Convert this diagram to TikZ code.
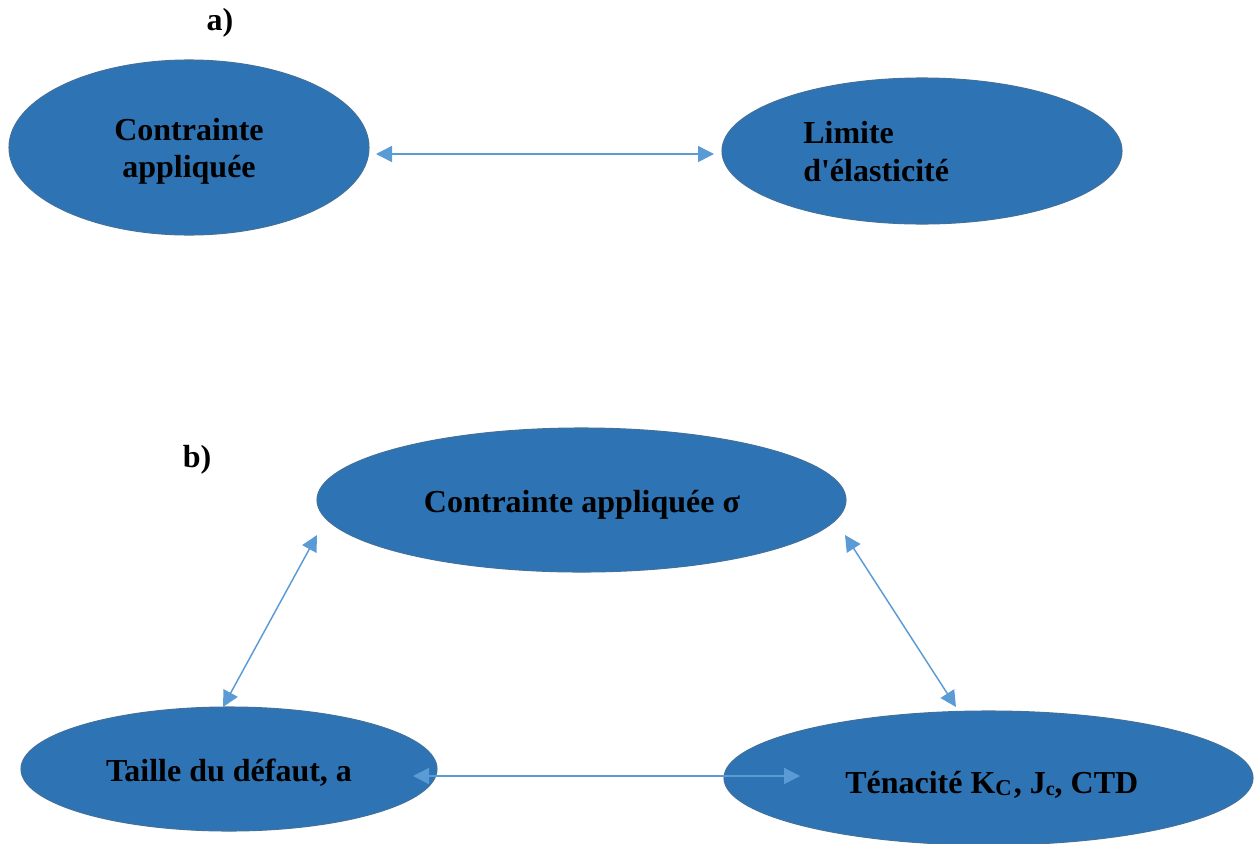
\documentclass[tikz,border=0pt]{standalone}
\usepackage{fontspec}
\setmainfont{Liberation Serif}
\usetikzlibrary{shapes.geometric,arrows.meta}
\definecolor{ellfill}{HTML}{2E74B5}
\definecolor{elldraw}{HTML}{41719C}
\definecolor{arr}{HTML}{5B9BD5}
\begin{document}
\begin{tikzpicture}[x=0.75pt,y=-0.75pt,
  ell/.style={ellipse,fill=ellfill,draw=elldraw,line width=0.8pt,inner sep=0pt},
  lbl/.style={font=\fontsize{24}{27.75}\selectfont\bfseries,text=black,inner sep=0pt},
  link/.style={draw=arr,line width=1.1pt,{Triangle[length=12pt,width=12pt]}-{Triangle[length=12pt,width=12pt]}}]
\useasboundingbox (0,0) rectangle (1260,843);
% panel a
\node[lbl,anchor=base] (la) at (220,30) {a)};
\node[ell,minimum width=360*0.75pt,minimum height=175*0.75pt] (A1) at (189,147.5) {};
\node[ell,minimum width=400*0.75pt,minimum height=146*0.75pt] (A2) at (922,151) {};
\node[lbl,anchor=base,align=center] (tA1a) at (189,140) {Contrainte};
\node[lbl,anchor=base,align=center] (tA1b) at (189,177) {appliquée};
\node[lbl,anchor=base west] (tA2a) at (803,143) {Limite};
\node[lbl,anchor=base west] (tA2b) at (803,181) {d\textquotesingle élasticité};
\coordinate (a1) at (376,154);
\coordinate (a2) at (714,154);
\draw[link] (a1) -- (a2);
% panel b
\node[lbl,anchor=base] (lb) at (197,467) {b)};
\node[ell,minimum width=529*0.75pt,minimum height=144*0.75pt] (B1) at (581.5,500) {};
\node[ell,minimum width=416*0.75pt,minimum height=124*0.75pt] (B2) at (229,769) {};
\node[ell,minimum width=529*0.75pt,minimum height=134*0.75pt] (B3) at (988.5,778) {};
\node[lbl,anchor=base] (tB1) at (582,512) {Contrainte appliquée σ};
\node[lbl,anchor=base] (tB2) at (229,781) {Taille du défaut, a};
\node[lbl,anchor=base west] (tB3) at (845,793) {Ténacité K{\fontsize{17}{19}\selectfont\raisebox{-1.5pt}{C}}\hspace{1.5pt}, J{\fontsize{15}{17}\selectfont\raisebox{-1.5pt}{c}}, CTD};
\coordinate (b1) at (317,535);
\coordinate (b2) at (223,707);
\coordinate (b3) at (845,535);
\coordinate (b4) at (956,707);
\coordinate (b5) at (413,776);
\coordinate (b6) at (800,776);
\draw[link] (b1) -- (b2);
\draw[link] (b3) -- (b4);
\draw[link] (b5) -- (b6);
\end{tikzpicture}
\end{document}
